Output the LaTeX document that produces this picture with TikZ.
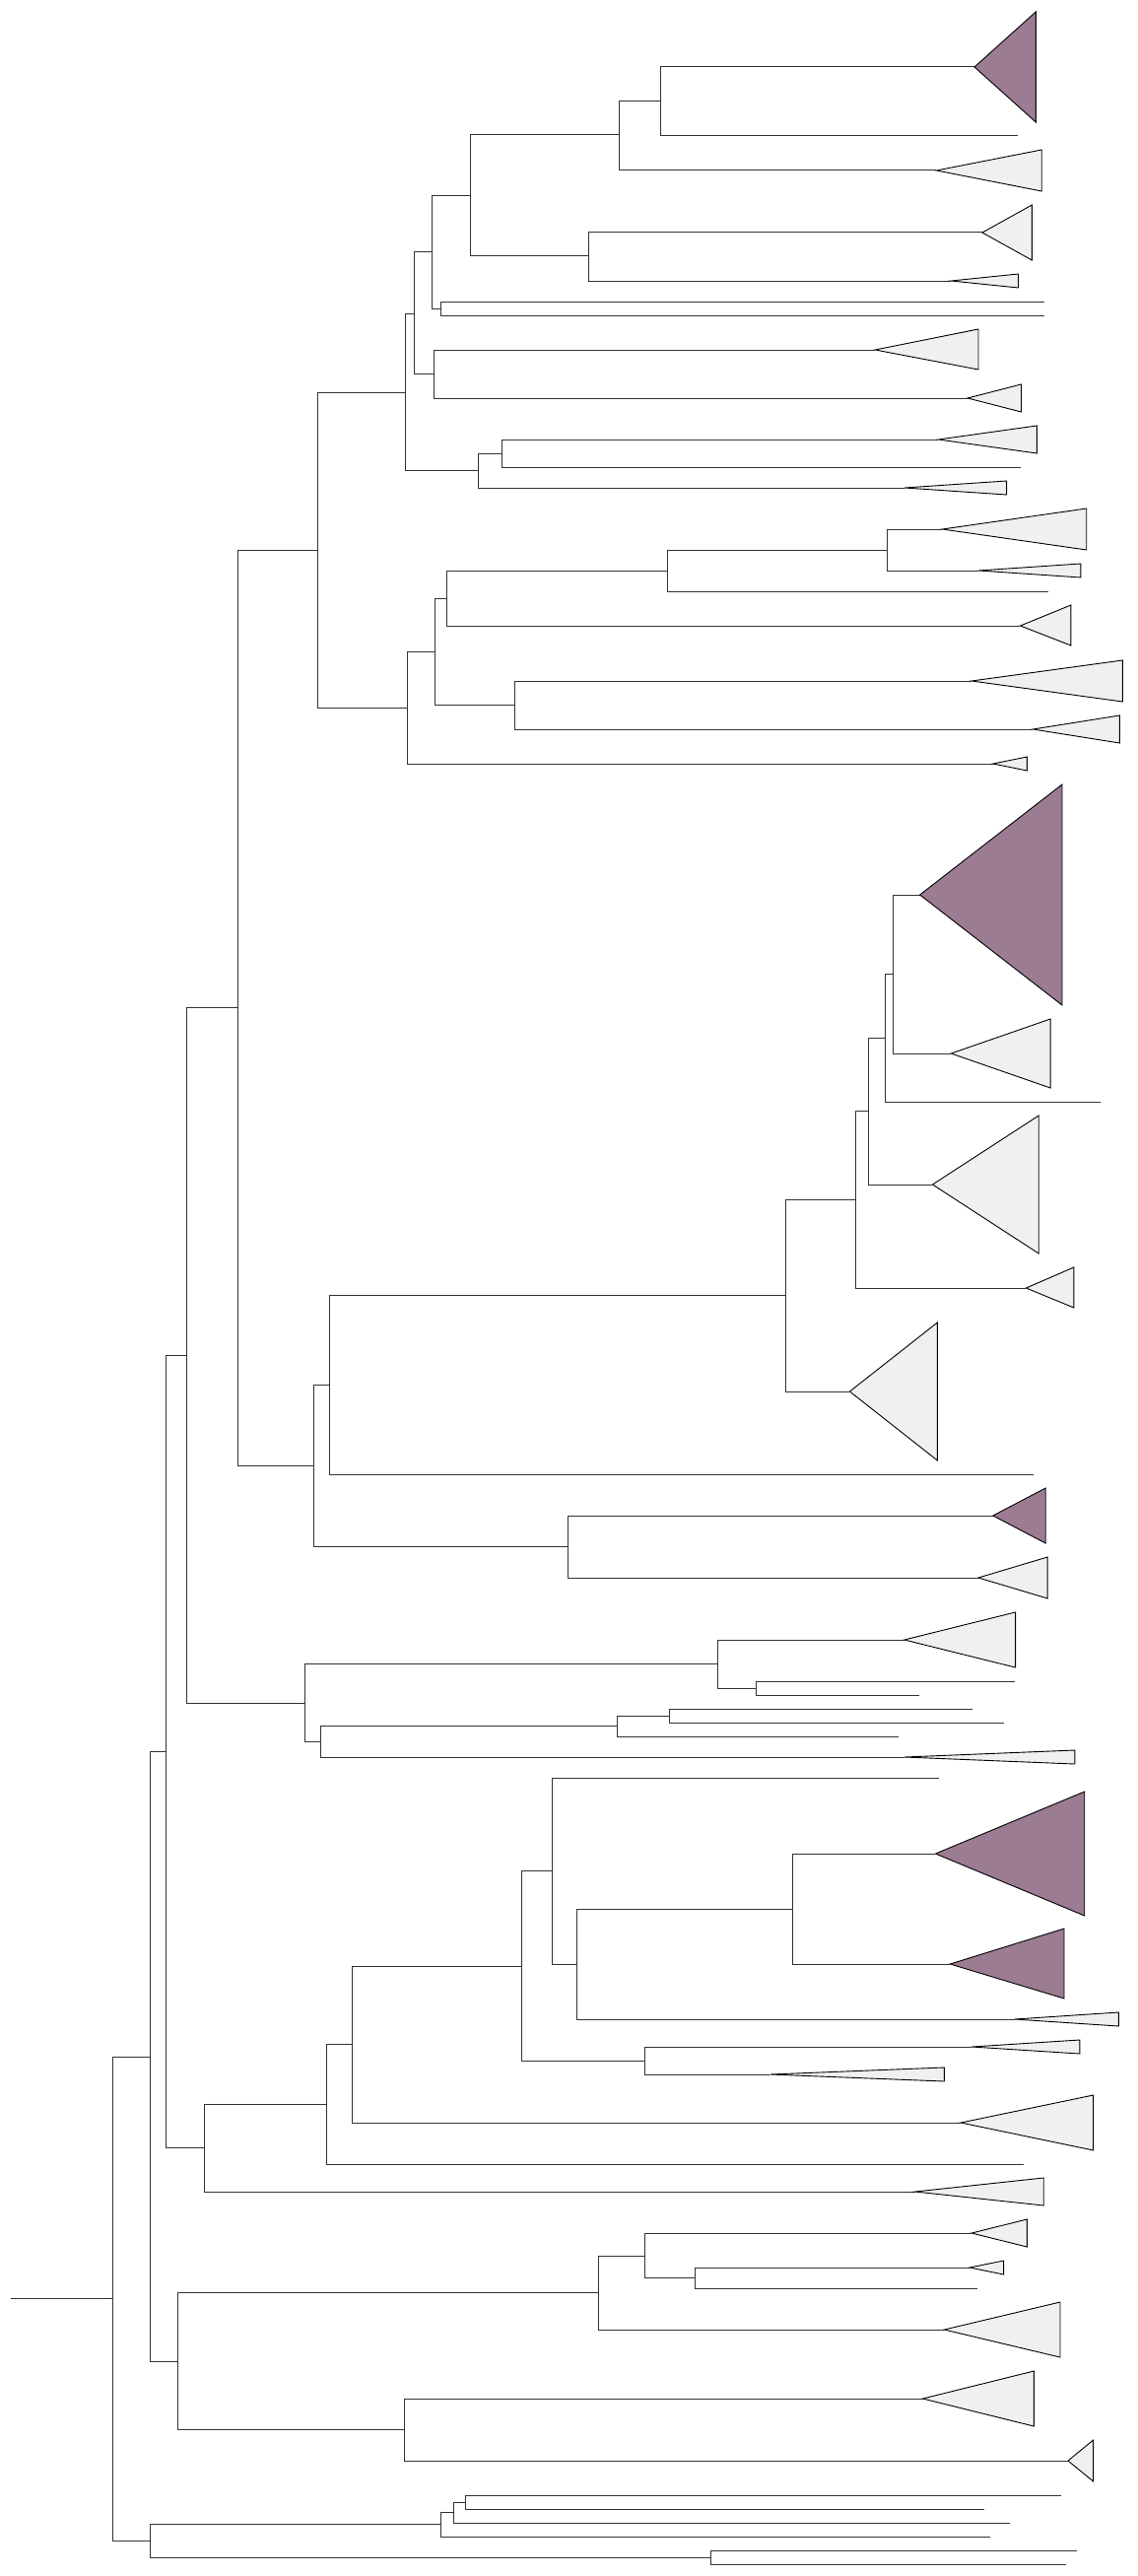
\documentclass[tikz,border=0pt]{standalone}
\usepackage{tikz}

\definecolor{cladegrey}{RGB}{240,240,240}
\definecolor{cladepurple}{RGB}{155,124,147}

\tikzset{
    branch/.style={draw=black!80, line width=1pt},
    clade/.style={draw=black, line width=0.9pt, fill=cladegrey, line join=miter},
    hitclade/.style={clade, fill=cladepurple}
}

\begin{document}
\begin{tikzpicture}[x=0.989pt, y=-1pt]
    \useasboundingbox (0,0) rectangle (1167.8,2614);
    % Internal nodes
    \foreach \n/\px/\py in {stem/11/2332, root/116/2332, b/154/2087, c/154/2578,
                        d/170/1777, e/182/2396, f/192/1375, g/210/2179,
                        h/244/1022, i/313/1728, j/326/558, k/322/1487,
                        j1/416/398, j2/425/318, j3/443/256, j4/483/199,
                        j5/635/137, j6/678/103, j7/604/260, j8/452/313,
                        j9/445/379, j10/491/477, j11/515/460, j12/418/718,
                        j13/446/661, j14/459/607, j15/685/579, j16/911/558,
                        j17/528/715,
                        k1/338/1405, k2/806/1314, k3/878/1217, k4/891/1127,
                        k5/908/1053, k6/917/988, k7/583/1569,
                        i1/737/1688, i2/776/1713, i3/329/1767, i4/633/1751,
                        i5/687/1741,
                        g1/335/2135, g2/361/2074, g3/535/1995, g4/567/1898,
                        g5/592/1993, g6/813/1937, g7/662/2091,
                        e1/614/2326, e2/662/2289, e3/713/2311, e4/415/2465,
                        c1/452/2561, c2/466/2549, c3/478/2539, c4/730/2595}{
        \coordinate (\n) at (\px,\py);
    }
    % Single leaves
    \foreach \n/\px/\py in {l1/1044/138, l2/1072/306, l3/1072/320, l4/1048/474,
                        l5/1076/600, l6/1129/1118, l7/1061/1496, l8/1041/1706,
                        l9/943/1720, l10/998/1734, l11/1030/1748, l12/922/1762,
                        l13/964/1804, l14/1051/2196, l15/1003/2322, l16/1089/2532,
                        l17/1010/2546, l18/1036/2560, l19/1016/2574, l20/1105/2588,
                        l21/1094/2602}{
        \coordinate (\n) at (\px,\py);
    }
    % Clade tips
    \foreach \n/\px/\py in {t1/1000/68, t2/961/173, t3/1008/236, t4/976/285,
                        t5/898/355, t6/993/404, t7/963/446, t8/928/495,
                        t9/967/537, t10/1004/579, t11/1047/635, t12/997/691,
                        t13/1060/740, t14/1019/775, t15/944/908, t16/976/1069,
                        t17/957/1202, t18/1053/1307, t19/872/1412, t20/1019/1538,
                        t21/1004/1601, t22/928/1664, t23/928/1783, t24/960/1881,
                        t25/975/1993, t26/1041/2049, t27/997/2077, t28/790/2105,
                        t29/986/2154, t30/939/2224, t31/997/2266, t32/995/2301,
                        t33/969/2364, t34/947/2434, t35/1096/2497}{
        \coordinate (\n) at (\px,\py);
    }
    % Branches
    \draw[branch] (stem) -- (root);
    \foreach \p/\c in {root/b, root/c, b/d, b/e, d/f, d/g, f/h, f/i, h/j, h/k,
                       j/j1, j/j12, j1/j2, j1/j10, j2/j3, j2/j9, j3/j4, j3/j8,
                       j4/j5, j4/j7, j5/j6, j5/t2, j6/t1, j6/l1, j7/t3, j7/t4,
                       j8/l2, j8/l3, j9/t5, j9/t6, j10/j11, j10/t8, j11/t7, j11/l4,
                       j12/j13, j12/t14, j13/j14, j13/j17, j14/j15, j14/t11,
                       j15/j16, j15/l5, j16/t9, j16/t10, j17/t12, j17/t13,
                       k/k1, k/k7, k1/k2, k1/l7, k2/k3, k2/t19, k3/k4, k3/t18,
                       k4/k5, k4/t17, k5/k6, k5/l6, k6/t15, k6/t16, k7/t20, k7/t21,
                       i/i1, i/i3, i1/t22, i1/i2, i2/l8, i2/l9, i3/i4, i3/t23,
                       i4/i5, i4/l12, i5/l10, i5/l11,
                       g/g1, g/t30, g1/g2, g1/l14, g2/g3, g2/t29, g3/g4, g3/g7,
                       g4/l13, g4/g5, g5/g6, g5/t26, g6/t24, g6/t25, g7/t27, g7/t28,
                       e/e1, e/e4, e1/e2, e1/t33, e2/t31, e2/e3, e3/t32, e3/l15,
                       e4/t34, e4/t35,
                       c/c1, c/c4, c1/c2, c1/l19, c2/c3, c2/l18, c3/l16, c3/l17,
                       c4/l20, c4/l21}{
        \draw[branch] (\p) |- (\c);
    }
    % Collapsed clades
    \foreach \n/\r/\t/\b in {t2/1069/152/194, t3/1059/208/264, t4/1045/278/292,
                        t5/1004/334/375, t6/1048/390/418, t7/1064/432/460,
                        t8/1033/488/502, t9/1115/516/558, t10/1109/572/586,
                        t11/1099/614/655, t12/1152/670/712, t13/1149/726/754,
                        t14/1054/768/782, t16/1078/1034/1104, t17/1066/1132/1272,
                        t18/1102/1286/1327, t19/962/1342/1482, t21/1075/1580/1622,
                        t22/1042/1636/1692, t23/1103/1776/1790, t26/1148/2042/2056,
                        t27/1108/2070/2084, t28/969/2098/2112, t29/1122/2126/2182,
                        t30/1071/2210/2238, t31/1054/2252/2280, t32/1030/2294/2308,
                        t33/1088/2336/2392, t34/1061/2406/2462, t35/1122/2476/2518}{
        \filldraw[clade] (\n) -- (\r,\t) -- (\r,\b) -- cycle;
    }
    % Highlighted clades
    \foreach \n/\r/\t/\b in {t1/1063/12/124, t15/1090/796/1020, t20/1073/1510/1566,
                        t24/1113/1818/1944, t25/1092/1957/2028}{
        \filldraw[hitclade] (\n) -- (\r,\t) -- (\r,\b) -- cycle;
    }
\end{tikzpicture}
\end{document}
